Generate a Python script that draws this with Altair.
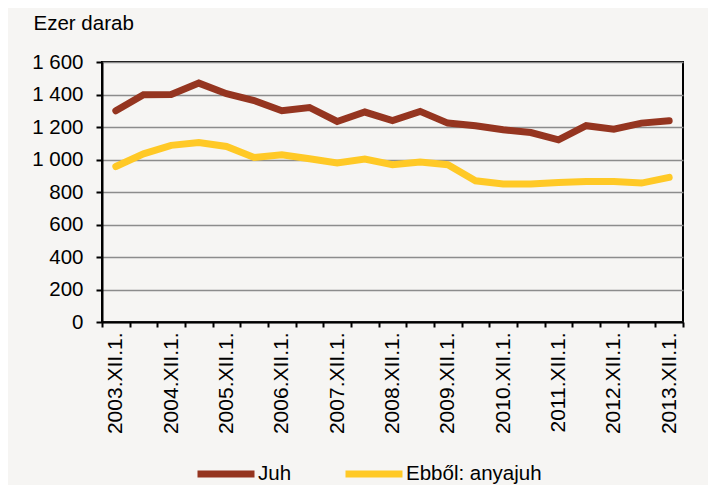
import altair as alt
import pandas as pd

periods = ["2003.XII.1.", "2004.VI.1.", "2004.XII.1.", "2005.VI.1.", "2005.XII.1.",
           "2006.VI.1.", "2006.XII.1.", "2007.VI.1.", "2007.XII.1.", "2008.VI.1.",
           "2008.XII.1.", "2009.VI.1.", "2009.XII.1.", "2010.VI.1.", "2010.XII.1.",
           "2011.VI.1.", "2011.XII.1.", "2012.VI.1.", "2012.XII.1.", "2013.VI.1.",
           "2013.XII.1."]
juh = [1300, 1398, 1400, 1470, 1405, 1363, 1300, 1320, 1234, 1292, 1240,
       1296, 1224, 1208, 1183, 1166, 1121, 1208, 1187, 1224, 1238]
anyajuh = [957, 1035, 1087, 1105, 1080, 1013, 1029, 1005, 978, 1003, 968,
           985, 968, 869, 849, 849, 859, 865, 865, 855, 890]
series_names = ["Juh", "Ebből: anyajuh"]
series_colors = ["#953520", "#FFC926"]
y_ticks = [0, 200, 400, 600, 800, 1000, 1200, 1400, 1600]

rows = []
for name, vals in zip(series_names, [juh, anyajuh]):
    for i, (p, v) in enumerate(zip(periods, vals)):
        rows.append({"idx": i, "period": p, "value": v, "series": name})
df = pd.DataFrame(rows)

n = len(periods)
tick_vals = [k - 0.5 for k in range(n + 1)]
cases = " : ".join(
    f"datum.value == {k - 0.5} ? '{periods[k]}'" for k in range(0, n, 2)
) + " : ''"

W, H = 581, 260
band = W / n
font = "Liberation Sans"

chart = alt.Chart(df).mark_line(strokeWidth=7, strokeCap="round", strokeJoin="miter").encode(
    x=alt.X("idx:Q",
            scale=alt.Scale(domain=[-0.5, n - 0.5], nice=False, zero=False),
            axis=alt.Axis(values=tick_vals, labelExpr=cases, title=None,
                          labelAngle=270, labelAlign="right", labelBaseline="middle",
                          labelOffset=band / 2, labelPadding=5, tickSize=5,
                          tickColor="black", tickWidth=2, domainColor="black",
                          domainWidth=2, grid=False, labelFont=font,
                          labelFontSize=21, labelColor="black", labelOverlap=False,
                          labelBound=False, labelFlush=False)),
    y=alt.Y("value:Q",
            scale=alt.Scale(domain=[0, 1600], nice=False),
            axis=alt.Axis(values=y_ticks,
                          labelExpr="replace(format(datum.value, ','), ',', ' ')",
                          title="Ezer darab", titleAngle=0, titleAlign="left",
                          titleBaseline="alphabetic", titleX=-69, titleY=-33,
                          titleFont=font, titleFontSize=20.5, titleFontWeight="normal",
                          titleColor="black",
                          tickSize=6, tickColor="black", tickWidth=2,
                          domainColor="black", domainWidth=2,
                          labelPadding=13, labelFont=font, labelFontSize=20.5,
                          labelColor="black",
                          grid=True, gridColor="#8c8c8c", gridWidth=1.5)),
    color=alt.Color("series:N",
                    scale=alt.Scale(domain=series_names, range=series_colors),
                    sort=series_names,
                    legend=alt.Legend(title=None, orient="none", direction="horizontal",
                                      legendX=92, legendY=380,
                                      symbolType="stroke", symbolSize=3249,
                                      symbolStrokeWidth=7, labelOffset=0,
                                      columnPadding=39, padding=0,
                                      labelFont=font, labelFontSize=20.5,
                                      labelColor="black")),
    order="idx:Q",
).properties(
    width=W, height=H,
    background="#f6f5f3",
    padding={"left": 94, "top": 54, "right": 25, "bottom": 163},
    autosize=alt.AutoSizeParams(type="none"),
).configure_view(
    stroke="black", strokeWidth=2
)

chart.save("out.html", embed_options={"renderer": "svg", "actions": False})
